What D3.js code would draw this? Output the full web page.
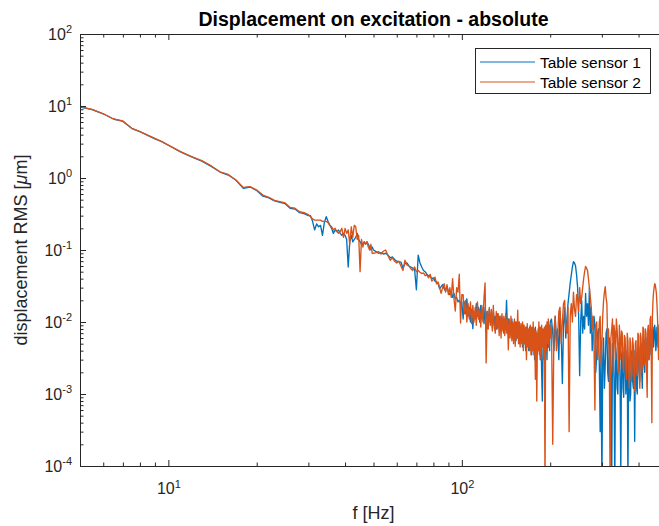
<!DOCTYPE html>
<html>
<head>
<meta charset="utf-8">
<script src="https://cdn.jsdelivr.net/npm/d3@7"></script>
<style>
  body { margin: 0; background: #fff; }
  svg { display: block; font-family: "Liberation Sans", Arial, Helvetica, sans-serif; }
</style>
</head>
<body>
<svg id="chart" width="659" height="526"></svg>
<script>
/********************************************************
 ********************* Data *****************************
 ********************************************************/
// frequencies [Hz], split in bands (resolution gets coarser at the top)
var freqLow = [5, 5.5, 6, 6.5, 7, 7.5, 8, 8.5, 9, 9.5, 10, 11, 12, 13, 14, 15, 16, 17, 18, 19, 20,
  21, 22, 23, 24, 25, 26, 27, 28, 29, 30];
var sensor1Low = [9.7, 8.9, 7.8, 6.6, 6.1, 4.9, 4.4, 3.9, 3.5, 3.2, 2.85, 2.3, 1.97, 1.72, 1.45, 1.21,
  1.1, 0.93, 0.72, 0.75, 0.67, 0.56, 0.53, 0.48, 0.46, 0.44, 0.38, 0.37, 0.33, 0.32, 0.3];
var sensor2Low = [9.8, 9.0, 7.8, 6.6, 6.2, 4.9, 4.4, 3.95, 3.55, 3.2, 2.87, 2.32, 1.98, 1.74, 1.47, 1.22,
  1.12, 0.94, 0.74, 0.76, 0.68, 0.58, 0.54, 0.49, 0.47, 0.45, 0.39, 0.38, 0.34, 0.33, 0.31];

var freqMid = [30.5, 31, 31.5, 32, 32.5, 33, 33.5, 34, 34.5, 35, 35.5, 36, 36.5, 37, 37.5, 38, 38.5,
  39, 39.5, 40, 40.5, 41, 41.5, 42, 42.5, 43, 43.5, 44, 44.5, 45, 45.5, 46, 46.5, 47, 47.5, 48, 48.5,
  49, 49.5, 50];
var sensor1Mid = [0.30, 0.25, 0.19, 0.23, 0.21, 0.22, 0.16, 0.24, 0.29, 0.25, 0.22, 0.20, 0.17, 0.19,
  0.18, 0.19, 0.17, 0.16, 0.17, 0.16, 0.14, 0.058, 0.13, 0.16, 0.13, 0.14, 0.15, 0.17, 0.14, 0.13,
  0.12, 0.12, 0.13, 0.12, 0.13, 0.12, 0.11, 0.10, 0.11, 0.10];
var sensor2Mid = [0.29, 0.27, 0.26, 0.26, 0.26, 0.26, 0.25, 0.25, 0.25, 0.24, 0.22, 0.21, 0.19, 0.20,
  0.18, 0.17, 0.18, 0.20, 0.15, 0.20, 0.17, 0.19, 0.12, 0.21, 0.15, 0.22, 0.21, 0.14, 0.16, 0.05,
  0.14, 0.11, 0.13, 0.12, 0.13, 0.11, 0.10, 0.12, 0.09, 0.09];

var freqHigh = [51, 52, 53, 54, 55, 56, 57, 58, 59, 60, 61, 62, 63, 64, 65, 66, 67, 68, 69, 70, 71, 72,
  73, 74, 75, 76, 77, 78, 79, 80, 81, 82, 83, 84, 85, 86, 87, 88, 89, 90, 91, 92, 93, 94, 95, 96, 97,
  98, 99, 100];
var sensor1High = [0.095, 0.090, 0.092, 0.088, 0.090, 0.085, 0.078, 0.080, 0.074, 0.070,
  0.069, 0.068, 0.056, 0.065, 0.066, 0.060, 0.058, 0.056, 0.054, 0.028,
  0.085, 0.066, 0.058, 0.052, 0.050, 0.046, 0.044, 0.043, 0.040, 0.041,
  0.037, 0.036, 0.034, 0.029, 0.031, 0.033, 0.029, 0.027, 0.031, 0.026,
  0.024, 0.027, 0.022, 0.025, 0.021, 0.022, 0.019, 0.020, 0.018, 0.019];
var sensor2High = [0.092, 0.095, 0.088, 0.096, 0.100, 0.084, 0.072, 0.078, 0.070, 0.066,
  0.070, 0.060, 0.052, 0.072, 0.062, 0.060, 0.055, 0.052, 0.058, 0.050,
  0.052, 0.049, 0.047, 0.048, 0.044, 0.045, 0.041, 0.046, 0.037, 0.039,
  0.042, 0.034, 0.036, 0.030, 0.025, 0.030, 0.034, 0.026, 0.033, 0.024,
  0.030, 0.022, 0.040, 0.021, 0.0142, 0.030, 0.026, 0.046, 0.0097, 0.024];

var freqTop = [101, 102, 103, 104, 105, 106, 107, 108, 109, 110, 111, 112, 113, 114, 115, 116, 117,
  118, 119, 120, 121, 122, 123, 124, 125, 126, 127, 128, 129, 130, 131, 132, 133, 134, 135, 136, 137,
  138, 139, 140, 141, 142, 143, 144, 145, 146, 147, 148, 149, 150, 151, 152, 153, 154, 155, 156, 157,
  158, 159, 160, 161, 162, 163, 164, 165, 166, 167, 168, 169, 170, 171, 172, 173, 174, 175, 176, 177,
  178, 179, 180, 181, 182, 183, 184, 185, 186, 187, 188, 189, 190, 191, 192, 193, 194, 195, 196, 197,
  198, 199, 200];
var sensor1Top = [0.011, 0.019, 0.013, 0.021, 0.012, 0.016, 0.010, 0.015, 0.0081, 0.014,
  0.011, 0.018, 0.012, 0.016, 0.010, 0.017, 0.011, 0.015, 0.0095, 0.016,
  0.011, 0.014, 0.0090, 0.015, 0.010, 0.013, 0.0085, 0.014, 0.0090, 0.012,
  0.0080, 0.013, 0.0085, 0.012, 0.0075, 0.012, 0.0080, 0.011, 0.0070, 0.011,
  0.0090, 0.020, 0.0080, 0.011, 0.0065, 0.010, 0.0070, 0.011, 0.0060, 0.0095,
  0.0065, 0.010, 0.0055, 0.0090, 0.0060, 0.0095, 0.0050, 0.0085, 0.0055, 0.0080,
  0.0045, 0.0090, 0.0050, 0.0080, 0.0040, 0.0085, 0.0050, 0.0075, 0.0040, 0.0085,
  0.0045, 0.0070, 0.0035, 0.0080, 0.0045, 0.0065, 0.0030, 0.0085, 0.0040, 0.0070,
  0.0035, 0.0080, 0.0040, 0.0060, 0.0030, 0.0075, 0.0020, 0.0008, 0.0040, 0.0070,
  0.0035, 0.0085, 0.0040, 0.0070, 0.0030, 0.0095, 0.0045, 0.0080, 0.0040, 0.0100];
var sensor2Top = [0.024, 0.013, 0.020, 0.010, 0.018, 0.011, 0.019, 0.0095, 0.017, 0.010,
  0.016, 0.0090, 0.019, 0.011, 0.015, 0.0085, 0.017, 0.010, 0.022, 0.035,
  0.0027, 0.014, 0.0080, 0.016, 0.0090, 0.015, 0.0075, 0.017, 0.0085, 0.0070,
  0.014, 0.0080, 0.013, 0.0065, 0.012, 0.0060, 0.013, 0.0075, 0.012, 0.0065,
  0.013, 0.0070, 0.011, 0.0041, 0.011, 0.0060, 0.012, 0.0055, 0.010, 0.0050,
  0.011, 0.0046, 0.010, 0.0060, 0.0146, 0.0050, 0.010, 0.0045, 0.0095, 0.0050,
  0.010, 0.0040, 0.0090, 0.0050, 0.0085, 0.0030, 0.0095, 0.0045, 0.0080, 0.0040,
  0.0090, 0.0035, 0.0085, 0.0040, 0.010, 0.0035, 0.0080, 0.0016, 0.0075, 0.0008,
  0.0070, 0.0040, 0.010, 0.0035, 0.0085, 0.0030, 0.0090, 0.0045, 0.0080, 0.0030,
  0.0085, 0.00005, 0.0090, 0.0040, 0.0100, 0.0050, 0.0110, 0.0045, 0.0090, 0.0060];

var freqPeak = [202, 204, 206, 208, 210, 212, 214, 216, 218, 220, 222, 224, 226, 228, 230, 232, 234,
  236, 238, 240, 242, 244, 246, 248, 250, 252, 254, 256, 258, 260, 262, 264, 266, 268, 270, 272, 274,
  276, 278, 280, 282, 284, 286, 288, 290, 292, 294, 296, 298, 300, 302, 304, 306, 308, 310, 312, 314,
  316, 318, 320, 322, 324, 326, 328, 330, 332, 334, 336, 338, 340, 342, 344, 346, 348, 350, 352, 354,
  356, 358, 360, 362, 364, 366, 368, 370, 372, 374, 376, 378, 380, 382, 384, 386, 388, 390, 392, 394,
  396, 398, 400, 402, 404, 406, 408, 410, 412, 414, 416, 418, 420, 422, 424, 426, 428, 430, 432, 434,
  436, 438, 440, 442, 444, 446, 448, 450, 452, 454, 456, 458, 460, 462, 464, 466, 468, 470, 472, 474,
  476, 478, 480, 482, 484, 486, 488, 490, 492, 494, 496, 498, 500];
var sensor1Peak = [0.0110, 0.0070, 0.0040, 0.012, 0.0055, 0.0080, 0.0030, 0.014, 0.0070, 0.0014,
  0.0090, 0.016, 0.0060, 0.011, 0.018, 0.025, 0.035, 0.045, 0.058, 0.069,
  0.066, 0.060, 0.045, 0.030, 0.012, 0.0018, 0.010, 0.020, 0.0070, 0.012,
  0.0080, 0.025, 0.012, 0.018, 0.0090, 0.030, 0.0070, 0.016, 0.0040, 0.0060,
  0.012, 0.0090, 0.0020, 0.0035, 0.0070, 0.0080, 0.0025, 0.0003, 0.0045, 0.00005,
  0.0030, 0.0060, 0.0012, 0.0025, 0.0070, 0.0080, 0.0020, 0.0015, 0.0060, 0.0050,
  0.0020, 0.00005, 0.0050, 0.0040, 0.0015, 0.00005, 0.0045, 0.0035, 0.0012, 0.0010,
  0.0050, 0.0045, 0.0015, 0.00008, 0.0035, 0.0040, 0.0012, 0.0009, 0.0045, 0.0035,
  0.0010, 0.0015, 0.0040, 0.00005, 0.0025, 0.0030, 0.0008, 0.0010, 0.0035, 0.0040,
  0.0015, 0.0012, 0.0040, 0.00022, 0.0030, 0.0035, 0.0012, 0.0010, 0.0040, 0.0045,
  0.0020, 0.0015, 0.0045, 0.0050, 0.0020, 0.0012, 0.0050, 0.0055, 0.0025, 0.0020,
  0.0055, 0.0060, 0.0025, 0.0030, 0.0065, 0.0070, 0.0030, 0.0035, 0.0075, 0.0080,
  0.0035, 0.0040, 0.0080, 0.0085, 0.0045, 0.0060, 0.0090, 0.0075, 0.0040, 0.0050,
  0.0085, 0.0080, 0.0045, 0.0060, 0.0090, 0.0070, 0.0040, 0.0065, 0.0085, 0.0050,
  0.0035, 0.0070, 0.0080, 0.0040, 0.0030, 0.0060, 0.0075, 0.0050, 0.0035, 0.0060];
var sensor2Peak = [0.0090, 0.0002, 0.0080, 0.012, 0.0040, 0.0060, 0.014, 0.016, 0.0050, 0.010,
  0.018, 0.020, 0.0080, 0.0070, 0.016, 0.0003, 0.012, 0.018, 0.010, 0.026,
  0.015, 0.012, 0.024, 0.022, 0.014, 0.030, 0.018, 0.022, 0.030, 0.040,
  0.050, 0.059, 0.056, 0.052, 0.040, 0.030, 0.022, 0.016, 0.0080, 0.012,
  0.0050, 0.0006, 0.0090, 0.010, 0.0030, 0.0040, 0.010, 0.012, 0.0025, 0.0050,
  0.012, 0.020, 0.026, 0.031, 0.022, 0.018, 0.0050, 0.0080, 0.0030, 0.00005,
  0.0060, 0.0080, 0.011, 0.0020, 0.0090, 0.0070, 0.0030, 0.011, 0.0080, 0.0045,
  0.0020, 0.0090, 0.0060, 0.0030, 0.0075, 0.0070, 0.0025, 0.0020, 0.0065, 0.0060,
  0.0025, 0.0016, 0.0070, 0.0055, 0.0020, 0.0012, 0.0060, 0.0050, 0.0015, 0.0020,
  0.0060, 0.0045, 0.0018, 0.0011, 0.0050, 0.0055, 0.0020, 0.0018, 0.0070, 0.0065,
  0.0020, 0.0012, 0.0070, 0.0060, 0.0020, 0.0025, 0.0085, 0.0080, 0.0025, 0.0030,
  0.0080, 0.0070, 0.0020, 0.0009, 0.0080, 0.0090, 0.0030, 0.0040, 0.011, 0.012,
  0.0030, 0.0004, 0.012, 0.020, 0.026, 0.030, 0.034, 0.033, 0.029, 0.025,
  0.018, 0.012, 0.0060, 0.0030, 0.0070, 0.010, 0.0050, 0.0080, 0.0035, 0.0040,
  0.0080, 0.0090, 0.0045, 0.0030, 0.0060, 0.0070, 0.0035, 0.0040, 0.0070, 0.0060];

var seriesNames = ["Table sensor 1", "Table sensor 2"];
var seriesColors = ["#0072BD", "#D95319"];
var xMajorTicks = [10, 100];
var xMinorTicks = [6, 7, 8, 9, 20, 30, 40, 50, 60, 70, 80, 90, 200, 300, 400];
var yMajorTicks = [1e-4, 1e-3, 1e-2, 1e-1, 1, 10, 100];
var yMinorTicks = [];
yMajorTicks.slice(0, -1).forEach(function(d) {
  for (var k = 2; k <= 9; k++) yMinorTicks.push(d * k);
});

/********************************************************
 ********************* Chart ****************************
 ********************************************************/
var svg = d3.select("#chart");
var axisColor = "#262626";
var plotLeft = 80, plotRight = 667, plotTop = 34, plotBottom = 466;

var x = d3.scaleLog().domain([5, 500]).range([plotLeft, plotRight]);
var y = d3.scaleLog().domain([1e-4, 1e2]).range([plotBottom, plotTop]);

svg.append("defs").append("clipPath").attr("id", "plotclip")
  .append("rect")
  .attr("x", plotLeft).attr("y", plotTop)
  .attr("width", plotRight - plotLeft).attr("height", plotBottom - plotTop);

var freq = freqLow.concat(freqMid, freqHigh, freqTop, freqPeak);
var sensor1 = sensor1Low.concat(sensor1Mid, sensor1High, sensor1Top, sensor1Peak);
var sensor2 = sensor2Low.concat(sensor2Mid, sensor2High, sensor2Top, sensor2Peak);

function toPoints(values) {
  return freq.map(function(f, i) { return [f, values[i]]; });
}

var line = d3.line()
  .x(function(d) { return x(d[0]); })
  .y(function(d) { return y(Math.max(d[1], 1e-6)); });

var plot = svg.append("g").attr("clip-path", "url(#plotclip)");
[sensor1, sensor2].forEach(function(values, i) {
  plot.append("path")
    .datum(toPoints(values))
    .attr("fill", "none")
    .attr("stroke", seriesColors[i])
    .attr("stroke-width", 1.35)
    .attr("stroke-linejoin", "round")
    .attr("d", line);
});

// 10^n tick labels
function powLabel(sel) {
  sel.each(function(d) {
    var t = d3.select(this);
    var e = Math.round(Math.log10(d));
    t.text(null);
    t.append("tspan").text("10");
    t.append("tspan").attr("dy", "-0.6em").attr("font-size", "11px").text(e);
  });
}

function styleAxis(g) {
  g.attr("color", axisColor)
    .attr("font-size", 16)
    .attr("font-family", null);
  g.selectAll(".tick line").attr("stroke-width", 1);
}

// x axis bottom
var gx = svg.append("g").attr("transform", "translate(0," + plotBottom + ")")
  .call(d3.axisBottom(x).tickValues(xMajorTicks).tickSize(-6).tickSizeOuter(0).tickPadding(17));
styleAxis(gx);
gx.selectAll(".tick text").call(powLabel);
svg.append("g").attr("transform", "translate(0," + plotBottom + ")")
  .call(d3.axisBottom(x).tickValues(xMinorTicks).tickSize(-3.5).tickFormat(""))
  .call(styleAxis).select(".domain").remove();

// x axis top (ticks only)
svg.append("g").attr("transform", "translate(0," + plotTop + ")")
  .call(d3.axisTop(x).tickValues(xMajorTicks).tickSize(-6).tickSizeOuter(0).tickFormat(""))
  .call(styleAxis);
svg.append("g").attr("transform", "translate(0," + plotTop + ")")
  .call(d3.axisTop(x).tickValues(xMinorTicks).tickSize(-3.5).tickFormat(""))
  .call(styleAxis).select(".domain").remove();

// y axis
var gy = svg.append("g").attr("transform", "translate(" + plotLeft + ",0)")
  .call(d3.axisLeft(y).tickValues(yMajorTicks).tickSize(-6).tickSizeOuter(0).tickPadding(8));
styleAxis(gy);
gy.selectAll(".tick text").call(powLabel);
svg.append("g").attr("transform", "translate(" + plotLeft + ",0)")
  .call(d3.axisLeft(y).tickValues(yMinorTicks).tickSize(-3.5).tickFormat(""))
  .call(styleAxis).select(".domain").remove();

// labels
svg.append("text")
  .attr("x", (plotLeft + plotRight) / 2).attr("y", 26)
  .attr("text-anchor", "middle")
  .attr("font-size", 19.5).attr("font-weight", "bold")
  .attr("fill", "#000")
  .text("Displacement on excitation - absolute");

svg.append("text")
  .attr("x", (plotLeft + plotRight) / 2).attr("y", 519)
  .attr("text-anchor", "middle")
  .attr("font-size", 18).attr("fill", axisColor)
  .text("f [Hz]");

var ylab = svg.append("text")
  .attr("transform", "translate(27," + (plotTop + plotBottom) / 2 + ") rotate(-90)")
  .attr("text-anchor", "middle")
  .attr("font-size", 18).attr("fill", axisColor);
ylab.append("tspan").text("displacement RMS [");
ylab.append("tspan").attr("font-style", "italic").text("\u03bc");
ylab.append("tspan").text("m]");

/********************************************************
 ********************* Legend ***************************
 ********************************************************/
var legend = svg.append("g");
legend.append("rect")
  .attr("x", 475.5).attr("y", 48.5)
  .attr("width", 175).attr("height", 45)
  .attr("fill", "#fff").attr("stroke", axisColor).attr("stroke-width", 1);
seriesNames.forEach(function(name, i) {
  var ly = 62 + i * 20;
  legend.append("line")
    .attr("x1", 480).attr("x2", 535)
    .attr("y1", ly).attr("y2", ly)
    .attr("stroke", seriesColors[i]).attr("stroke-width", 1.2);
  legend.append("text")
    .attr("x", 540).attr("y", ly + 5.5)
    .attr("font-size", 15.5).attr("fill", "#000")
    .text(name);
});
</script>
</body>
</html>
